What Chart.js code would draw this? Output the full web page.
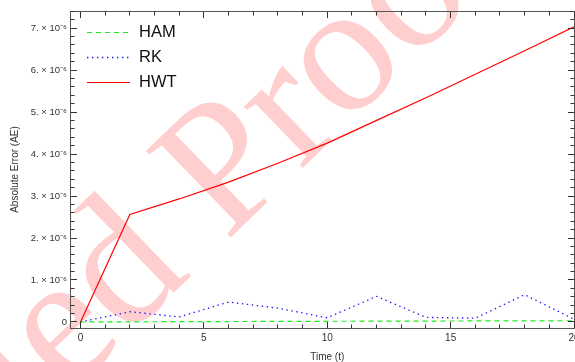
<!DOCTYPE html>
<html>
<head>
<meta charset="utf-8">
<script src="https://cdn.jsdelivr.net/npm/chart.js@4"></script>
<style>
  html, body { margin: 0; padding: 0; background: #fff; }
  canvas { display: block; }
</style>
</head>
<body>
<canvas id="c" width="575" height="362"></canvas>
<script>
// Sampling times and absolute errors of the three methods
const timeSteps = [0, 2, 4, 6, 8, 10, 12, 14, 16, 18, 20];
const hamError  = [0, 0.004e-6, 0.008e-6, 0.011e-6, 0.014e-6, 0.017e-6, 0.020e-6, 0.022e-6, 0.025e-6, 0.027e-6, 0.030e-6];
const rkError   = [0, 0.245e-6, 0.12e-6, 0.475e-6, 0.33e-6, 0.10e-6, 0.61e-6, 0.11e-6, 0.09e-6, 0.65e-6, 0.065e-6];
const hwtError  = [0, 2.56e-6, 2.93e-6, 3.33e-6, 3.78e-6, 4.26e-6, 4.80e-6, 5.34e-6, 5.90e-6, 6.46e-6, 7.03e-6];

const seriesLabels = ['HAM', 'RK', 'HWT'];
const xTickValues = [0, 5, 10, 15, 20];
const yTickValues = [0, 1e-6, 2e-6, 3e-6, 4e-6, 5e-6, 6e-6, 7e-6];
const xTitle = 'Time (t)';
const yTitle = 'Absolute Error (AE)';
const watermarkText = 'Certified Proof';

const SANS = '"Liberation Sans", Arial, sans-serif';
const toPoints = (ys) => timeSteps.map((t, i) => ({ x: t, y: ys[i] }));

// Faint diagonal stamp behind the plot
const watermark = {
  id: 'watermark',
  beforeDraw(chart) {
    const ctx = chart.ctx;
    ctx.save();
    ctx.translate(226, 242);
    ctx.rotate(-44 * Math.PI / 180);
    ctx.font = '185px "Liberation Serif", "Times New Roman", serif';
    ctx.fillStyle = 'rgba(255,0,0,0.19)';
    ctx.textBaseline = 'alphabetic';
    ctx.textAlign = 'left';
    const lead = ctx.measureText('Certified ').width;
    ctx.fillText(watermarkText, -lead, 0);
    ctx.restore();
  }
};

// Boxed frame with inward major/minor ticks, x title and inset legend
const frame = {
  id: 'frame',
  afterDraw(chart) {
    const ctx = chart.ctx;
    const { left, right, top, bottom } = chart.chartArea;
    const xs = chart.scales.x, ys = chart.scales.y;
    ctx.save();
    ctx.strokeStyle = '#555';
    ctx.lineWidth = 1;
    ctx.strokeRect(left + 0.5, top + 0.5, right - left, bottom - top);

    ctx.strokeStyle = '#333';
    ctx.beginPath();
    for (let i = 0; i <= 20; i++) {
      const px = Math.floor(xs.getPixelForValue(i)) + 0.5;
      const len = i % 5 === 0 ? 6 : 3.5;
      ctx.moveTo(px, bottom); ctx.lineTo(px, bottom - len);
      ctx.moveTo(px, top + 1); ctx.lineTo(px, top + 1 + len);
    }
    for (let k = 0; ; k++) {
      const v = k * 0.2e-6;
      if (v > ys.max) break;
      const py = Math.floor(ys.getPixelForValue(v)) + 0.5;
      const len = k % 5 === 0 ? 6 : 3.5;
      ctx.moveTo(left + 1, py); ctx.lineTo(left + 1 + len, py);
      ctx.moveTo(right, py); ctx.lineTo(right - len, py);
    }
    ctx.stroke();

    // x axis title, centred on the data range
    ctx.fillStyle = '#333';
    ctx.font = '10px ' + SANS;
    ctx.textAlign = 'center';
    ctx.textBaseline = 'middle';
    ctx.fillText(xTitle, xs.getPixelForValue(10), 357);

    // legend
    const x0 = 87, x1 = 130, tx = 139;
    chart.data.datasets.forEach((ds, i) => {
      const y = 32 + i * 25;
      ctx.save();
      ctx.strokeStyle = ds.borderColor;
      ctx.lineWidth = ds.borderWidth;
      ctx.setLineDash(ds.borderDash || []);
      ctx.beginPath();
      ctx.moveTo(x0, y + 0.5);
      ctx.lineTo(x1, y + 0.5);
      ctx.stroke();
      ctx.restore();
      ctx.fillStyle = '#111';
      ctx.font = '16.5px ' + SANS;
      ctx.textAlign = 'left';
      ctx.textBaseline = 'middle';
      ctx.fillText(ds.label, tx, y);
    });
    ctx.restore();
  }
};

new Chart(document.getElementById('c'), {
  type: 'line',
  data: {
    datasets: [
      { label: seriesLabels[0], data: toPoints(hamError), borderColor: 'rgb(30,235,30)',
        borderWidth: 1.2, borderDash: [5, 4] },
      { label: seriesLabels[1], data: toPoints(rkError), borderColor: 'rgb(20,20,255)',
        borderWidth: 1.3, borderDash: [1.4, 3.6] },
      { label: seriesLabels[2], data: toPoints(hwtError), borderColor: 'rgb(255,0,0)',
        borderWidth: 1.2 }
    ]
  },
  options: {
    responsive: false,
    animation: false,
    devicePixelRatio: 1,
    layout: { padding: { top: 11, right: 1, left: 0, bottom: 0 } },
    elements: { point: { radius: 0 }, line: { tension: 0, fill: false } },
    plugins: { legend: { display: false }, tooltip: { enabled: false } },
    scales: {
      x: {
        type: 'linear',
        min: -0.426,
        max: 20,
        grid: { display: false, drawTicks: false },
        border: { display: false },
        afterBuildTicks: (s) => { s.ticks = xTickValues.map(v => ({ value: v })); },
        afterFit: (s) => { s.height = 34; s.paddingLeft = 0; s.paddingRight = 0; },
        ticks: { padding: 4, color: '#333', font: { family: SANS, size: 10 }, maxRotation: 0, autoSkip: false,
                 callback: (v) => String(v) }
      },
      y: {
        type: 'linear',
        min: -0.1429e-6,
        max: 7.405e-6,
        grid: { display: false, drawTicks: false },
        border: { display: false },
        afterBuildTicks: (s) => { s.ticks = yTickValues.map(v => ({ value: v })); },
        afterFit: (s) => { s.width = 70; s.paddingTop = 0; s.paddingBottom = 0; },
        ticks: {
          padding: 3, color: '#333', font: { family: SANS, size: 9.5 }, autoSkip: false,
          callback: (v) => v === 0 ? '0' : Math.round(v * 1e6) + '. \u00d7 10\u207b\u2076'
        },
        title: { display: true, text: yTitle, color: '#333', padding: { top: 9, bottom: 0 },
                 font: { family: SANS, size: 10 } }
      }
    }
  },
  plugins: [watermark, frame]
});
</script>
</body>
</html>
